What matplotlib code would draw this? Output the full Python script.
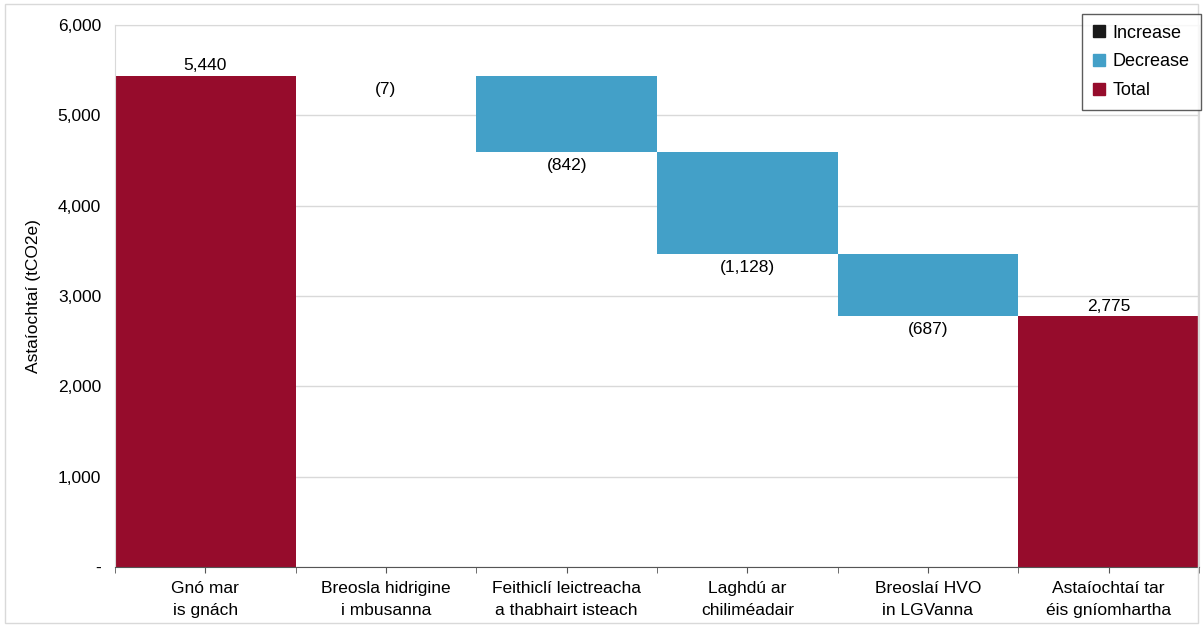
import numpy as np
import matplotlib.pyplot as plt
from matplotlib.patches import Patch, Rectangle
from matplotlib.ticker import FuncFormatter

plt.rcParams['font.family'] = ['Liberation Sans', 'DejaVu Sans']

categories = ['Gnó mar\nis gnách', 'Breosla hidrigine\ni mbusanna',
              'Feithiclí leictreacha\na thabhairt isteach', 'Laghdú ar\nchiliméadair',
              'Breoslaí HVO\nin LGVanna', 'Astaíochtaí tar\néis gníomhartha']
values = [5440, -7, -842, -1128, -687, 2775]
kinds = ['total', 'change', 'change', 'change', 'change', 'total']

c_inc = '#1a1a1a'
c_dec = '#43a0c8'
c_tot = '#960c2c'


def label(v):
    return '({:,})'.format(-v) if v < 0 else '{:,}'.format(v)


fig = plt.figure(figsize=(12.03, 6.26), dpi=100)
ax = fig.add_axes([0.0956, 0.094, 0.901, 0.866])

x = np.arange(len(values))
running = 0
for i, (v, k) in enumerate(zip(values, kinds)):
    if k == 'total':
        ax.bar(i, v, width=1.0, color=c_tot, zorder=2)
        ax.text(i, v + 30, label(v), ha='center', va='bottom', fontsize=12.5)
        running = v
    else:
        bottom = running + v if v < 0 else running
        ax.bar(i, abs(v), bottom=bottom, width=1.0,
               color=c_dec if v < 0 else c_inc, zorder=2)
        ax.text(i, bottom - 60, label(v), ha='center', va='top', fontsize=12.5)
        running += v

ax.set_xlim(-0.5, len(values) - 0.5)
ax.set_ylim(0, 6000)
ax.set_yticks(np.arange(0, 6001, 1000))
ax.yaxis.set_major_formatter(FuncFormatter(lambda v, p: '-' if v == 0 else '{:,.0f}'.format(v)))
ax.set_xticks(x)
ax.set_xticklabels(categories, fontsize=12.5, linespacing=1.55)
ax.set_xticks(np.arange(-0.5, len(values), 1.0), minor=True)
ax.tick_params(axis='x', which='both', length=4, color='#555555', pad=6)
ax.tick_params(axis='y', length=0, labelsize=12.5, pad=10)
ax.grid(axis='y', color='#d9d9d9', linewidth=1, zorder=0)
ax.set_ylabel('Astaíochtaí (tCO2e)', fontsize=12.5, labelpad=12)

for s in ['top', 'left', 'right']:
    ax.spines[s].set_color('#d9d9d9')
ax.spines['bottom'].set_color('#555555')

handles = [Patch(color=c_inc, label='Increase'),
           Patch(color=c_dec, label='Decrease'),
           Patch(color=c_tot, label='Total')]
leg = fig.legend(handles=handles, loc='upper right', bbox_to_anchor=(0.998, 0.978),
                 borderaxespad=0, fontsize=13, frameon=True, fancybox=False,
                 handlelength=0.65, handleheight=0.65, handletextpad=0.45,
                 borderpad=0.6, labelspacing=0.65)
leg.get_frame().set_edgecolor('#333333')
leg.get_frame().set_linewidth(1)

fig.patches.append(Rectangle((0.004, 0.004), 0.992, 0.99, transform=fig.transFigure,
                             fill=False, edgecolor='#d9d9d9', linewidth=1))

fig.savefig('out.png', dpi=100)
